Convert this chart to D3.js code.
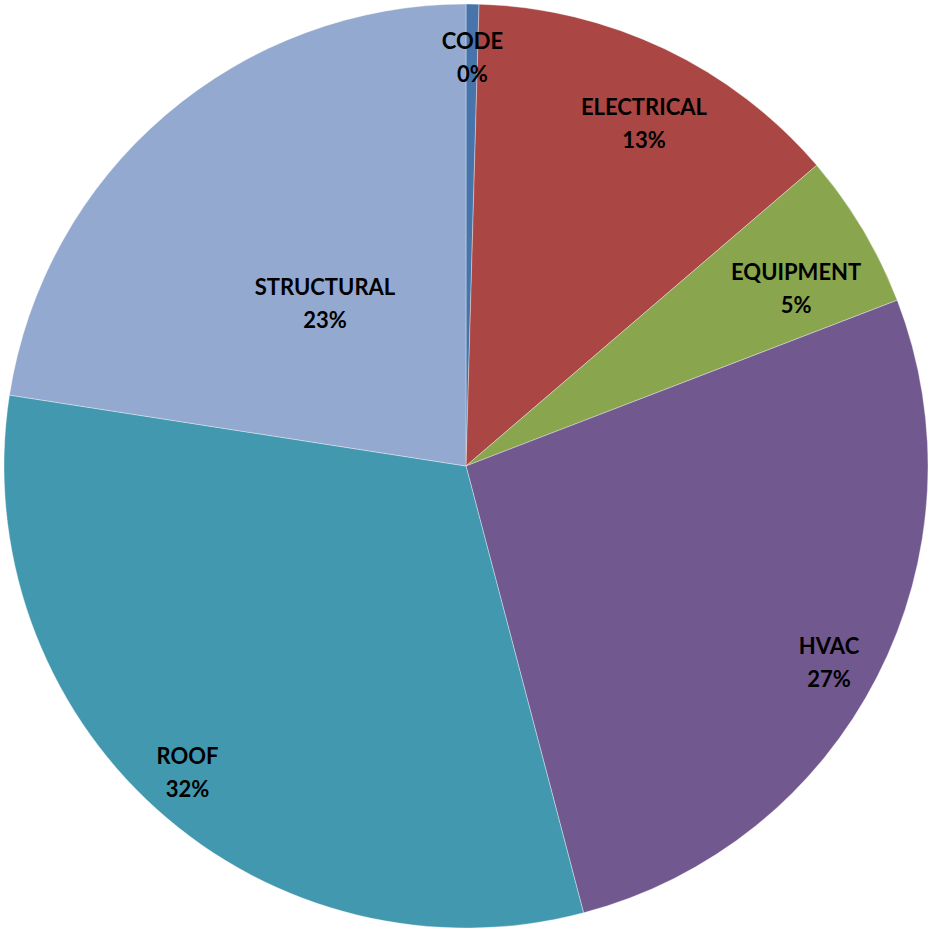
<!DOCTYPE html>
<html>
<head>
<meta charset="utf-8">
<script src="https://cdn.jsdelivr.net/npm/d3@7/dist/d3.min.js"></script>
<style>
  body { margin: 0; background: #fff; }
  .lbl { font-family: Lato, "Liberation Sans", sans-serif; font-weight: bold; font-size: 22px; fill: #000; }
</style>
</head>
<body>
<div id="chart"></div>
<script>
// data (share of total)
var categories = ['CODE', 'ELECTRICAL', 'EQUIPMENT', 'HVAC', 'ROOF', 'STRUCTURAL'];
var values = [0.45, 13.27, 5.44, 26.75, 31.55, 22.55];

var colors = ['#4674AB', '#AA4643', '#89A54E', '#71588F', '#4198AF', '#93A9CF'];
// label placement: fraction of radius, angle tweak in degrees
var labelR = [0.883, 0.835, 0.811, 0.894, 0.898, 0.465];
var labelTurn = [0.1, 1.96, 2.6, 1.37, 0.13, -0.44];

var width = 930, height = 930;
var cx = 466, cy = 466, radius = 462;

var svg = d3.select('#chart').append('svg').attr('width', width).attr('height', height);
var g = svg.append('g').attr('transform', `translate(${cx},${cy})`);

var data = categories.map((c, i) => ({name: c, value: values[i]}));
var total = d3.sum(values);
var pct = d3.format('.0%');

var pie = d3.pie().sort(null).value(d => d.value);
var arc = d3.arc().innerRadius(0).outerRadius(radius);
var arcs = pie(data);

g.selectAll('path').data(arcs).enter().append('path')
    .attr('d', arc)
    .attr('fill', (d, i) => colors[i])
    .attr('stroke', 'rgba(255,255,255,0.45)')
    .attr('stroke-width', 0.8);

var labels = g.selectAll('text').data(arcs).enter().append('text')
    .attr('class', 'lbl')
    .attr('text-anchor', 'middle')
    .attr('transform', (d, i) => {
        var a = (d.startAngle + d.endAngle) / 2 + labelTurn[i] * Math.PI / 180;
        var r = labelR[i] * radius;
        return `translate(${r * Math.sin(a)},${-r * Math.cos(a)})`;
    });

labels.append('tspan').attr('x', 0).attr('y', -9).text(d => d.data.name);
labels.append('tspan').attr('x', 0).attr('y', 24).text(d => pct(d.data.value / total));
</script>
</body>
</html>
